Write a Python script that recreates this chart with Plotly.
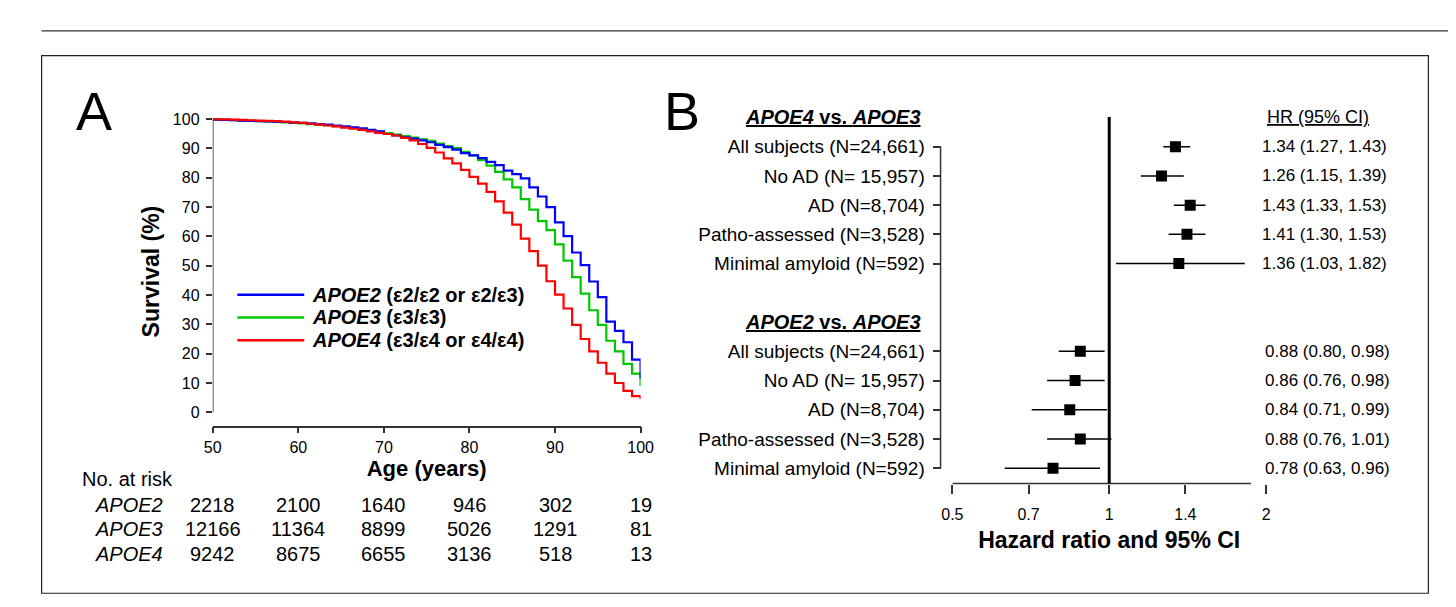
import math
import plotly.graph_objects as go

W, H = 1456, 607
FONT = "Liberation Sans, Arial, sans-serif"

# ---- panel A: Kaplan-Meier survival, one value per year of age (50..99) ----
ages = list(range(50, 100))
apoe2_surv = [99.8, 99.7, 99.6, 99.5, 99.4, 99.3, 99.2, 99.1, 99.0, 98.8,
              98.7, 98.5, 98.3, 98.1, 97.8, 97.5, 97.2, 96.8, 96.3, 95.8,
              94.9, 94.4, 93.8, 93.3, 92.7, 92.1, 91.2, 90.4, 89.6, 88.4,
              87.6, 86.7, 85.4, 84.3, 82.4, 81.2, 79.8, 76.7, 73.6, 70.0,
              64.8, 60.1, 54.5, 50.2, 44.6, 39.3, 30.9, 27.8, 23.9, 18.0]
apoe3_surv = [99.8, 99.7, 99.6, 99.5, 99.4, 99.3, 99.2, 99.0, 98.9, 98.7,
              98.5, 98.3, 98.1, 97.9, 97.6, 97.3, 97.0, 96.6, 96.2, 95.7,
              95.2, 94.7, 94.2, 93.7, 93.1, 92.6, 91.6, 90.8, 90.1, 88.8,
              87.6, 86.0, 84.1, 82.0, 79.4, 76.7, 72.7, 69.1, 65.2, 62.1,
              57.3, 51.7, 46.1, 40.5, 34.8, 29.8, 24.4, 20.8, 16.5, 13.2]
apoe4_surv = [99.9, 99.9, 99.8, 99.7, 99.6, 99.5, 99.4, 99.3, 99.1, 98.9,
              98.7, 98.4, 98.1, 97.8, 97.5, 97.1, 96.7, 96.3, 95.8, 95.3,
              94.9, 94.4, 93.6, 92.7, 91.5, 90.2, 88.6, 86.6, 84.9, 82.7,
              80.3, 78.0, 75.2, 71.9, 68.1, 64.0, 59.2, 55.0, 50.0, 44.7,
              40.1, 35.4, 29.8, 25.0, 20.8, 16.9, 13.2, 10.0, 7.3, 5.5]
end_age = 100
end_surv = {"APOE2": 11.5, "APOE3": 9.0, "APOE4": 4.5}

risk_ages = [50, 60, 70, 80, 90, 100]
risk_apoe2 = [2218, 2100, 1640, 946, 302, 19]
risk_apoe3 = [12166, 11364, 8899, 5026, 1291, 81]
risk_apoe4 = [9242, 8675, 6655, 3136, 518, 13]

# ---- panel B: hazard ratios ----
subgroups = ["All subjects (N=24,661)", "No AD (N= 15,957)", "AD (N=8,704)",
             "Patho-assessed (N=3,528)", "Minimal amyloid (N=592)"]
hr_e4 = [1.34, 1.26, 1.43, 1.41, 1.36]
lo_e4 = [1.27, 1.15, 1.33, 1.30, 1.03]
hi_e4 = [1.43, 1.39, 1.53, 1.53, 1.82]
hr_e2 = [0.88, 0.86, 0.84, 0.88, 0.78]
lo_e2 = [0.80, 0.76, 0.71, 0.76, 0.63]
hi_e2 = [0.98, 0.98, 0.99, 1.01, 0.96]
rows_e4 = [0, 1, 2, 3, 4]
rows_e2 = [7, 8, 9, 10, 11]
hr_ticks = [0.5, 0.7, 1, 1.4, 2]


def px(x):
    return x / W


def py(y):
    return 1 - y / H


fig = go.Figure()

curves = [("APOE3", apoe3_surv, "#00c800"),
          ("APOE2", apoe2_surv, "#0000ff"),
          ("APOE4", apoe4_surv, "#ff0000")]
for name, surv, col in curves:
    fig.add_trace(go.Scatter(
        x=ages + [end_age, end_age], y=surv + [surv[-1], end_surv[name]],
        mode="lines", line=dict(color=col, width=2.2, shape="hv"),
        name=name, showlegend=False, xaxis="x", yaxis="y"))

# CI lines
ci_x, ci_y = [], []
for lo, hi, r in zip(lo_e4 + lo_e2, hi_e4 + hi_e2, rows_e4 + rows_e2):
    ci_x += [lo, hi, None]
    ci_y += [r, r, None]
fig.add_trace(go.Scatter(x=ci_x, y=ci_y, mode="lines",
                         line=dict(color="black", width=1.5),
                         showlegend=False, xaxis="x2", yaxis="y2"))
fig.add_trace(go.Scatter(x=hr_e4 + hr_e2, y=rows_e4 + rows_e2, mode="markers",
                         marker=dict(symbol="square", size=11, color="black"),
                         showlegend=False, xaxis="x2", yaxis="y2"))

axis_col = "#333333"
fig.update_layout(
    width=W, height=H, margin=dict(l=0, r=0, t=0, b=0),
    paper_bgcolor="white", plot_bgcolor="white",
    font=dict(family=FONT, color="black"),
    xaxis=dict(domain=[px(197), px(632)], range=[50, 100], anchor="y",
               tickvals=risk_ages, ticks="outside", ticklen=6, tickwidth=1.5,
               tickcolor=axis_col, showline=True, linecolor=axis_col, linewidth=1.5,
               showgrid=False, zeroline=False, tickfont=dict(size=16),
               ticklabelstandoff=1,
               title=dict(text="<b>Age (years)</b>", font=dict(size=22), standoff=4)),
    yaxis=dict(domain=[py(415.3), py(103.8)], range=[-4.5, 100.5], anchor="x",
               tickvals=list(range(0, 101, 10)), ticks="outside", ticklen=6,
               tickwidth=1.5, tickcolor=axis_col, showline=False,
               showgrid=False, zeroline=False, tickfont=dict(size=16),
               ticklabelstandoff=3,
               title=dict(text="<b>Survival (%)</b>", font=dict(size=23), standoff=6)),
    xaxis2=dict(domain=[px(949), px(1268)], type="log",
                range=[math.log10(0.5), math.log10(2)], anchor="y2",
                tickvals=hr_ticks, ticktext=[str(t) for t in hr_ticks],
                ticks="outside", ticklen=9, tickwidth=1.5, tickcolor=axis_col,
                showline=False, showgrid=False, zeroline=False,
                tickfont=dict(size=16), ticklabelstandoff=7,
                title=dict(text="<b>Hazard ratio and 95% CI</b>",
                           font=dict(size=23), standoff=10)),
    yaxis2=dict(domain=[py(474), py(103)], anchor="free", position=px(937),
                range=[11.52, -1.02], tickvals=rows_e4 + rows_e2,
                ticktext=subgroups + subgroups, ticks="outside", ticklen=8,
                tickwidth=1.5, tickcolor=axis_col, showline=False,
                showgrid=False, zeroline=False, tickfont=dict(size=19),
                ticklabelstandoff=4),
)

shapes = [
    # top rule and frame
    dict(type="line", xref="paper", yref="paper", x0=px(23), x1=1, y0=py(16), y1=py(16),
         line=dict(color=axis_col, width=1.3)),
    dict(type="rect", xref="paper", yref="paper", x0=px(23), x1=px(1433),
         y0=py(585), y1=py(41), line=dict(color="#222222", width=1.2)),
    # panel A y axis line (0..100 only)
    dict(type="line", xref="x", yref="y", x0=50, x1=50, y0=0, y1=100,
         line=dict(color=axis_col, width=1.5)),
    # panel B axis lines and reference line
    dict(type="line", xref="paper", yref="y2", x0=px(937), x1=px(937), y0=0, y1=11,
         line=dict(color=axis_col, width=1.5)),
    dict(type="line", xref="x2", yref="paper", x0=0.5, x1=1.87, y0=py(474), y1=py(474),
         line=dict(color=axis_col, width=1.5)),
    dict(type="line", xref="x2", yref="y2", x0=1, x1=1, y0=-1.02, y1=11.52,
         line=dict(color="black", width=3)),
]

annotations = [
    dict(text="A", x=px(56), y=py(97), xanchor="left", yanchor="middle",
         font=dict(size=54)),
    dict(text="B", x=px(654), y=py(97), xanchor="left", yanchor="middle",
         font=dict(size=54)),
]

# legend of panel A
legend_rows = [("APOE2", " (ε2/ε2 or ε2/ε3)", "#0000ff", 283),
               ("APOE3", " (ε3/ε3)", "#00c800", 306),
               ("APOE4", " (ε3/ε4 or ε4/ε4)", "#ff0000", 329)]
for gene, geno, col, yy in legend_rows:
    shapes.append(dict(type="line", xref="paper", yref="paper", x0=px(222), x1=px(290),
                       y0=py(yy), y1=py(yy), line=dict(color=col, width=2.5)))
    annotations.append(dict(text=f"<b><i>{gene}</i>{geno}</b>", x=px(296), y=py(yy),
                            xanchor="left", yanchor="middle", font=dict(size=20)))

# number at risk table
annotations.append(dict(text="No. at risk", x=px(62), y=py(469), xanchor="left",
                        yanchor="middle", font=dict(size=20)))
for name, counts, yy in [("APOE2", risk_apoe2, 496), ("APOE3", risk_apoe3, 520),
                         ("APOE4", risk_apoe4, 545)]:
    annotations.append(dict(text=f"<i>{name}</i>", x=px(75), y=py(yy), xanchor="left",
                            yanchor="middle", font=dict(size=20)))
    for a, n in zip(risk_ages, counts):
        annotations.append(dict(text=str(n), xref="x", x=a, y=py(yy), xanchor="center",
                                yanchor="middle", font=dict(size=20)))

# forest headers and HR text
for title, row in [("<b><u><i>APOE4</i> vs. <i>APOE3</i></u></b>", -1),
                   ("<b><u><i>APOE2</i> vs. <i>APOE3</i></u></b>", 6)]:
    annotations.append(dict(text=title, x=px(919), yref="y2", y=row, xanchor="right",
                            yanchor="middle", font=dict(size=20)))
annotations.append(dict(text="<u>HR (95% CI)</u>", x=px(1267), yref="y2", y=-1,
                        xanchor="left", yanchor="middle", font=dict(size=18)))
for hrs, los, his, rows, x0 in [(hr_e4, lo_e4, hi_e4, rows_e4, 1262),
                                (hr_e2, lo_e2, hi_e2, rows_e2, 1265)]:
    for h, lo, hi, r in zip(hrs, los, his, rows):
        annotations.append(dict(text=f"{h:.2f} ({lo:.2f}, {hi:.2f})", x=px(x0),
                                yref="y2", y=r, xanchor="left", yanchor="middle",
                                font=dict(size=17)))

for a in annotations:
    a.setdefault("xref", "paper")
    a.setdefault("yref", "paper")
    a["showarrow"] = False

fig.update_layout(shapes=shapes, annotations=annotations)
fig.write_html("out.html")
